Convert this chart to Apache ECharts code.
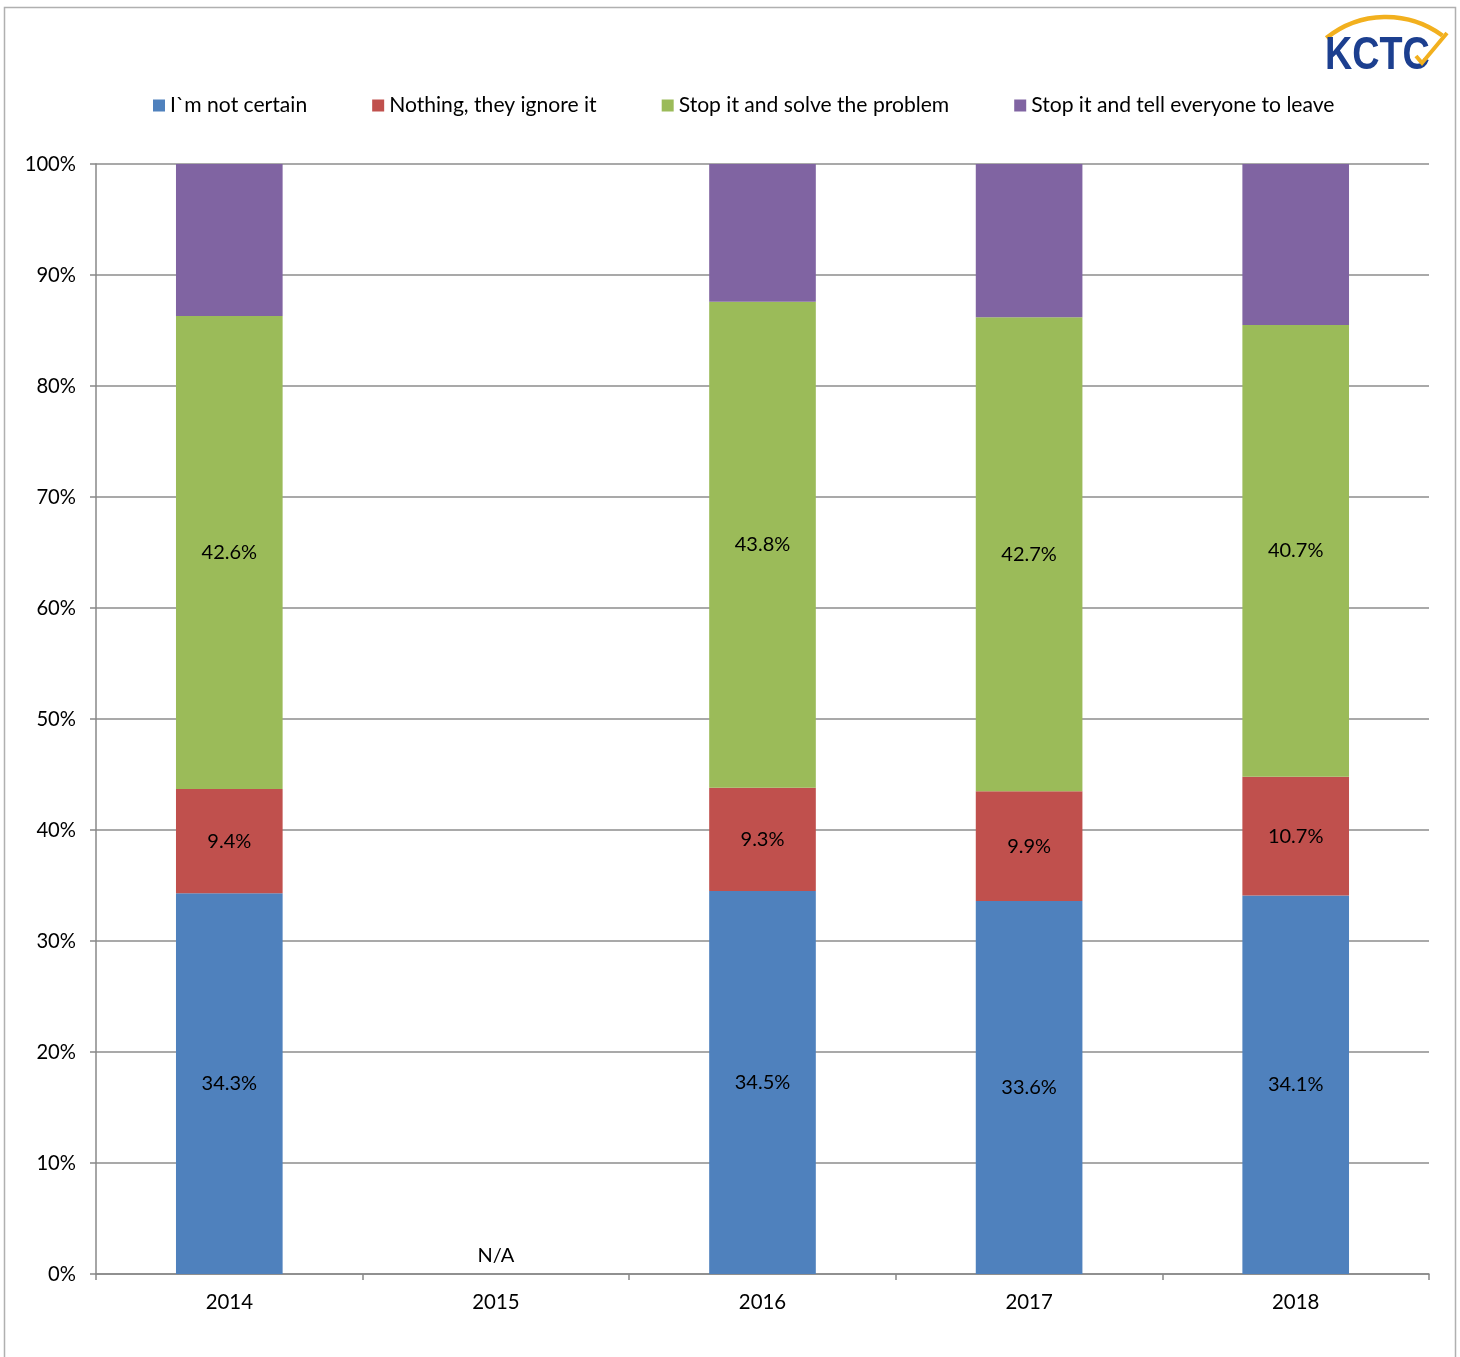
<!DOCTYPE html>
<html>
<head>
<meta charset="utf-8">
<script src="https://cdn.jsdelivr.net/npm/echarts@6/dist/echarts.min.js"></script>
<style>html,body{margin:0;padding:0;background:#fff}#c{width:1460px;height:1357px}</style>
</head>
<body>
<div id="c"></div>
<script>
const categories = ['2014', '2015', '2016', '2017', '2018'];
const notCertain = [34.3, 0, 34.5, 33.6, 34.1];
const ignoreIt = [9.4, null, 9.3, 9.9, 10.7];
const solveProblem = [42.6, null, 43.8, 42.7, 40.7];
const tellLeave = [13.7, null, 12.4, 13.8, 14.5];
const seriesNames = ['I`m not certain', 'Nothing, they ignore it', 'Stop it and solve the problem', 'Stop it and tell everyone to leave'];
const colors = ['#4F81BD', '#C0504D', '#9BBB59', '#8064A2'];
const yTicks = [0, 10, 20, 30, 40, 50, 60, 70, 80, 90, 100];

const FONT = 'Lato';
const chart = echarts.init(document.getElementById('c'));

function bar(name, data, color, showLabel) {
  return {
    name: name, type: 'bar', stack: 'total', barWidth: '40%',
    itemStyle: { color: color },
    label: {
      show: showLabel, position: 'inside', color: '#000', fontFamily: FONT, fontSize: 20,
      formatter: p => (p.value === null || p.value === 0) ? '' : p.value.toFixed(1) + '%'
    },
    data: data.map((v, i) => {
      if (v === 0 && name === seriesNames[0]) {
        return { value: 0, label: { show: true, position: 'top', distance: 8, formatter: 'N/A', color: '#000', fontFamily: FONT, fontSize: 20 } };
      }
      return v === null ? '-' : v;
    }),
    emphasis: { disabled: true }
  };
}

chart.setOption({
  animation: false,
  backgroundColor: '#fff',
  textStyle: { fontFamily: FONT },
  legend: {
    left: 148, top: 90, itemWidth: 12, itemHeight: 12, itemGap: 65,
    icon: 'rect',
    textStyle: { fontFamily: FONT, fontSize: 21.1, color: '#000' },
    data: seriesNames
  },
  grid: { left: 96, right: 31, top: 164, bottom: 83 },
  xAxis: {
    type: 'category', data: categories,
    axisLine: { lineStyle: { color: '#888', width: 1.5 } },
    axisTick: { show: true, length: 6, lineStyle: { color: '#888', width: 1.5 } },
    axisLabel: { color: '#000', fontFamily: FONT, fontSize: 20.4, margin: 18 }
  },
  yAxis: {
    type: 'value', min: 0, max: 100, interval: 10,
    axisLine: { show: true, lineStyle: { color: '#888', width: 1.5 } },
    axisTick: { show: true, length: 6, lineStyle: { color: '#888', width: 1.5 } },
    splitLine: { lineStyle: { color: '#8c8c8c', width: 1.5 } },
    axisLabel: { color: '#000', fontFamily: FONT, fontSize: 20.2, margin: 20, formatter: v => yTicks.includes(v) ? v + '%' : '' }
  },
  series: [
    bar(seriesNames[0], notCertain, colors[0], true),
    bar(seriesNames[1], ignoreIt, colors[1], true),
    bar(seriesNames[2], solveProblem, colors[2], true),
    bar(seriesNames[3], tellLeave, colors[3], false)
  ],
  graphic: [
    { type: 'rect', shape: { x: 4.5, y: 7.5, width: 1451, height: 1360 }, style: { fill: 'none', stroke: '#b0b0b0', lineWidth: 1.5 }, silent: true },
    { type: 'arc', shape: { cx: 1386, cy: 112, r: 95, startAngle: -128.9 * Math.PI / 180, endAngle: -53.6 * Math.PI / 180 }, style: { stroke: '#F2B01E', lineWidth: 4.5, fill: 'none' }, silent: true },
    { type: 'text', x: 1325, y: 33, scaleX: 0.82, style: { text: 'KCTC', fill: '#1C3F8F', font: 'bold 46px "Liberation Sans"' }, silent: true },
    { type: 'polyline', shape: { points: [[1416, 56], [1422, 63], [1447, 33]] }, style: { stroke: '#F2B01E', lineWidth: 4, fill: 'none' }, silent: true }
  ]
});
</script>
</body>
</html>
